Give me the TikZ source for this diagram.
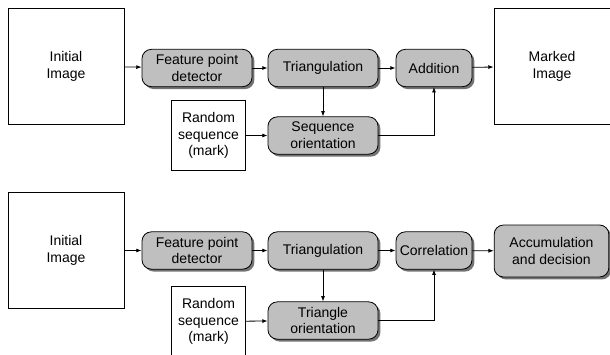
\documentclass[tikz,border=0pt]{standalone}
\usepackage{fontspec}
\setmainfont{Liberation Sans}
\usetikzlibrary{shadows,arrows.meta}

\begin{document}
\begin{tikzpicture}[x=0.75pt,y=-0.75pt,
  font=\fontsize{10.5}{12.6}\selectfont,
  plain/.style={draw,line width=0.6pt,fill=white,align=center,inner sep=0pt},
  stage/.style={draw,line width=0.6pt,rounded corners=7pt,fill=black!25,align=center,
    inner sep=0pt,minimum height=28pt,
    drop shadow={shadow xshift=1.8pt,shadow yshift=-1.8pt,fill=black!55,opacity=1}},
  flow/.style={-{Latex[length=4pt,width=3pt]},line width=0.6pt}]
\clip (0,0) rectangle (610,354);

% embedding
\node[plain,minimum width=87pt,minimum height=87pt] (init1) at (66,66) {Initial\\Image};
\node[stage,minimum width=82.5pt] (fpd1) at (197,68) {Feature point\\detector};
\node[stage,minimum width=82.5pt] (tri1) at (323,68) {Triangulation};
\node[stage,minimum width=57pt] (add1) at (434,68) {Addition};
\node[plain,minimum width=87pt,minimum height=87pt] (marked1) at (552,66) {Marked\\Image};
\node[plain,minimum width=56pt,minimum height=53pt] (rand1) at (208.5,135.5) {Random\\sequence\\(mark)};
\node[stage,minimum width=82.5pt] (ori1) at (323,135.5) {Sequence\\orientation};
\draw[flow] (init1) -- (fpd1);
\draw[flow] (fpd1) -- (tri1);
\draw[flow] (tri1) -- (add1);
\draw[flow] (add1) -- (marked1);
\draw[flow] (tri1) -- (ori1);
\draw[flow] (rand1) -- (ori1);
\draw[flow] (ori1) -| (add1);

% detection
\node[plain,minimum width=87pt,minimum height=87pt] (init2) at (66,250.5) {Initial\\Image};
\node[stage,minimum width=82.5pt] (fpd2) at (197,250.5) {Feature point\\detector};
\node[stage,minimum width=82.5pt] (tri2) at (323,250.5) {Triangulation};
\node[stage,minimum width=57pt] (corr2) at (434,250.5) {Correlation};
\node[stage,minimum width=86pt,minimum height=39pt] (acc2) at (551.5,251) {Accumulation\\and decision};
\node[plain,minimum width=56pt,minimum height=53pt] (rand2) at (208.5,321.5) {Random\\sequence\\(mark)};
\node[stage,minimum width=82.5pt] (ori2) at (323,320.5) {Triangle\\orientation};
\draw[flow] (init2) -- (fpd2);
\draw[flow] (fpd2) -- (tri2);
\draw[flow] (tri2) -- (corr2);
\draw[flow] (corr2) -- (acc2);
\draw[flow] (tri2) -- (ori2);
\draw[flow] (rand2) -- (ori2);
\draw[flow] (ori2) -| (corr2);
\end{tikzpicture}
\end{document}
